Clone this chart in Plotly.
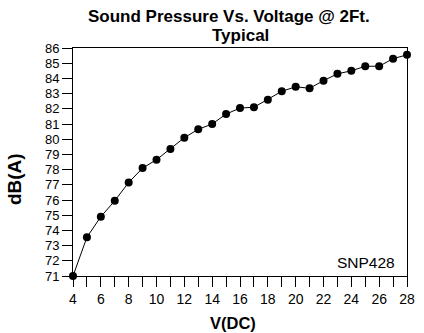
import plotly.graph_objects as go

# sound pressure readings at 2 ft
volts = [4, 5, 6, 7, 8, 9, 10, 11, 12, 13, 14, 15, 16, 17, 18, 19, 20, 21, 22, 23, 24, 25, 26, 27, 28]
dba = [71.0, 73.55, 74.9, 75.95, 77.15, 78.1, 78.65, 79.35, 80.1, 80.65, 81.0, 81.65, 82.05, 82.1, 82.6,
       83.15, 83.45, 83.35, 83.85, 84.3, 84.5, 84.8, 84.8, 85.3, 85.55]

x_ticks = list(range(4, 29))
x_labels = [str(v) if v % 2 == 0 else "" for v in x_ticks]
y_ticks = list(range(71, 87))

fnt = "Liberation Sans, Arial, Helvetica, sans-serif"

fig = go.Figure()
fig.add_trace(go.Scatter(x=volts, y=dba, mode="lines+markers",
                         line=dict(color="black", width=1),
                         marker=dict(color="black", size=8),
                         cliponaxis=False, showlegend=False))

fig.update_layout(
    width=424, height=333,
    margin=dict(l=73, r=9, t=48, b=57),
    paper_bgcolor="white", plot_bgcolor="white",
    font=dict(family=fnt, color="black", size=13),
    annotations=[
        dict(text="<b>Sound Pressure Vs. Voltage @ 2Ft.</b>", x=0.468, y=1,
             xref="paper", yref="paper", xanchor="center", yanchor="middle",
             yshift=32, showarrow=False, font=dict(size=17)),
        dict(text="<b>Typical</b>", x=0.5, y=1,
             xref="paper", yref="paper", xanchor="center", yanchor="middle",
             yshift=13, showarrow=False, font=dict(size=17)),
        dict(text="<b>V(DC)</b>", x=0.48, y=0, xref="paper", yref="paper",
             xanchor="center", yanchor="middle", yshift=-47, showarrow=False,
             font=dict(size=16.5)),
        dict(text="<b>dB(A)</b>", x=0, y=0.425,
             xref="paper", yref="paper", xanchor="center", yanchor="middle",
             xshift=-59, textangle=-90, showarrow=False, font=dict(size=19)),
        dict(text="SNP428", x=1, y=0, xref="paper", yref="paper",
             xanchor="right", yanchor="middle", xshift=-10, yshift=14,
             showarrow=False, font=dict(size=15.5)),
    ],
)
fig.update_xaxes(range=[4, 28], tickvals=x_ticks, ticktext=x_labels,
                 ticks="outside", ticklen=10, tickwidth=1, tickcolor="black",
                 tickfont=dict(size=14),
                 showline=True, linecolor="black", linewidth=1, mirror=True,
                 showgrid=False, zeroline=False)
fig.update_yaxes(range=[71, 86], tickvals=y_ticks,
                 ticks="outside", ticklen=10, tickwidth=1, tickcolor="black",
                 tickfont=dict(size=13),
                 showline=True, linecolor="black", linewidth=1, mirror=True,
                 showgrid=False, zeroline=False)

fig.write_html("out.html", config={"displayModeBar": False},
               post_script="document.body.style.margin='0';")
